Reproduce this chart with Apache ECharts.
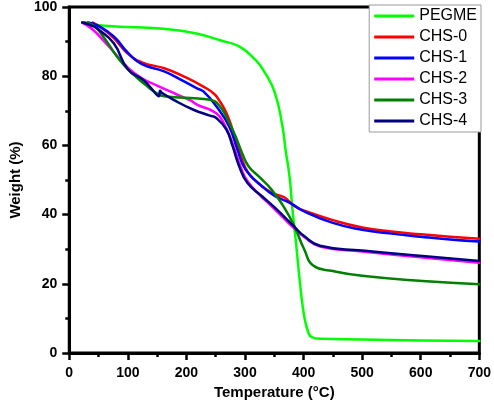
<!doctype html>
<html lang="en">
<head>
<meta charset="UTF-8">
<title>TGA</title>
<script src="https://cdn.jsdelivr.net/npm/echarts@6/dist/echarts.min.js"></script>
<style>
  html, body { margin: 0; padding: 0; background: #fff; }
  #main { width: 494px; height: 405px; }
</style>
</head>
<body>
<div id="main"></div>
<script>
// [temperature (°C), weight (%)]
var seriesNames = ['PEGME', 'CHS-0', 'CHS-1', 'CHS-2', 'CHS-3', 'CHS-4'];
var seriesColors = ['#00ff00', '#ff0000', '#0000ff', '#ff00ff', '#008000', '#000080'];

var pegme = [[25, 95.5], [40, 95], [60, 94.6], [100, 94.2], [160, 93.7], [215, 92.4], [259, 90.3],
  [290, 88.6], [318, 84.7], [334, 81], [351, 75.2], [364, 65.4], [369, 59], [376, 51], [381, 41.5],
  [387, 32], [394, 20], [401, 10.7], [408, 6], [414, 4.6], [430, 4.1], [500, 3.9], [600, 3.6], [700, 3.5]];

var chs0 = [[40, 95.5], [55, 94], [76, 91], [100, 86.5], [124, 84], [162, 82.3], [196, 79.9], [229, 77],
  [248, 74.8], [256, 73], [265, 70.5], [273, 67.4], [284, 61.7], [293, 56.9], [306, 52], [329, 48.2],
  [350, 46], [367, 45], [384, 42.5], [400, 41.2], [450, 38.4], [500, 36.3], [550, 35.1], [600, 34.3],
  [650, 33.6], [700, 33]];

var chs1 = [[32, 95.5], [50, 94.5], [76, 91.5], [100, 86.8], [124, 83.5], [162, 81.4], [196, 78.5],
  [218, 76.5], [229, 75.6], [251, 71.3], [273, 65.5], [287, 58.8], [301, 53], [329, 48.2], [350, 45.5],
  [379, 43.2], [400, 41], [450, 37.6], [500, 35.6], [550, 34.5], [600, 33.6], [650, 32.8], [700, 32.2]];

var chs2 = [[22, 95.5], [40, 93.5], [60, 90], [76, 87], [100, 82.5], [124, 79.4], [151, 77.2], [180, 75],
  [207, 73], [218, 71.8], [251, 69.3], [265, 66], [280, 60], [292, 54], [305, 49.5], [329, 45],
  [339, 43.5], [360, 40], [384, 36], [401, 33.5], [428, 30.8], [500, 29.3], [603, 27.6], [700, 26.1]];

var chs3 = [[25, 95.5], [40, 94.8], [60, 91], [80, 86], [100, 82], [110, 80.4], [130, 77.5], [150, 75],
  [162, 74.2], [207, 73.7], [240, 73.2], [257, 71.3], [273, 66.5], [284, 62.6], [295, 57.8], [306, 54],
  [323, 51.1], [345, 47.3], [367, 42], [384, 36.7], [401, 30], [417, 25.2], [450, 23.7], [500, 22.3],
  [603, 20.8], [700, 19.9]];

var chs4 = [[22, 95.5], [40, 94.5], [50, 93.5], [76, 89.5], [100, 82], [126, 79], [140, 76.5], [153, 74.2],
  [155, 75.8], [158, 75.2], [180, 73], [212, 70.3], [240, 68.6], [251, 67.9], [268, 64.6], [279, 59.7],
  [290, 54], [304, 49.2], [329, 45.3], [351, 42], [384, 36.5], [401, 33.8], [428, 31], [500, 29.6],
  [603, 28], [700, 26.6]];

var allData = [pegme, chs0, chs1, chs2, chs3, chs4];

var xTicks = { min: 0, max: 700, step: 100 };
var yTicks = { min: 0, max: 100, step: 20 };

var font = 'Arial, "Liberation Sans", sans-serif';

var chart = echarts.init(document.getElementById('main'));

var series = [];
for (var i = 0; i < allData.length; i++) {
    series.push({
        name: seriesNames[i],
        type: 'line',
        data: allData[i],
        symbol: 'none',
        smooth: 0.5,
        color: seriesColors[i],
        lineStyle: { width: 2.5, color: seriesColors[i], join: 'round', cap: 'round' },
        animation: false
    });
}

chart.setOption({
    backgroundColor: '#fff',
    animation: false,
    grid: {
        left: 59, right: 13, top: 7, bottom: 51,
        show: true, borderColor: '#000', borderWidth: 3
    },
    legend: {
        orient: 'vertical',
        right: 13, top: 5,
        icon: 'rect',
        itemWidth: 40, itemHeight: 3,
        itemGap: 5,
        padding: [3, 4, 3, 5],
        borderColor: '#999', borderWidth: 1,
        backgroundColor: '#fff',
        textStyle: { fontFamily: font, fontSize: 16, color: '#000' },
        data: seriesNames
    },
    xAxis: {
        type: 'value',
        min: xTicks.min, max: xTicks.max, interval: xTicks.step,
        name: 'Temperature (\u00b0C)',
        nameLocation: 'middle',
        nameGap: 32,
        nameTextStyle: { fontFamily: font, fontSize: 15, fontWeight: 'bold', color: '#000' },
        axisLine: { onZero: false, lineStyle: { color: '#000', width: 3 } },
        axisTick: { length: 7, lineStyle: { color: '#000', width: 2.5 } },
        minorTick: { show: true, splitNumber: 2, length: 4, lineStyle: { color: '#000', width: 2.5 } },
        axisLabel: { margin: 13, fontFamily: font, fontSize: 14, fontWeight: 'bold', color: '#000' },
        splitLine: { show: false }
    },
    yAxis: {
        type: 'value',
        min: yTicks.min, max: yTicks.max, interval: yTicks.step,
        name: 'Weight (%)',
        nameLocation: 'middle',
        nameGap: 42,
        nameTextStyle: { fontFamily: font, fontSize: 15, fontWeight: 'bold', color: '#000' },
        axisLine: { onZero: false, lineStyle: { color: '#000', width: 3 } },
        axisTick: { length: 7, lineStyle: { color: '#000', width: 2.5 } },
        minorTick: { show: true, splitNumber: 2, length: 4, lineStyle: { color: '#000', width: 2.5 } },
        axisLabel: { margin: 12, fontFamily: font, fontSize: 14, fontWeight: 'bold', color: '#000' },
        splitLine: { show: false }
    },
    series: series
});
</script>
</body>
</html>
